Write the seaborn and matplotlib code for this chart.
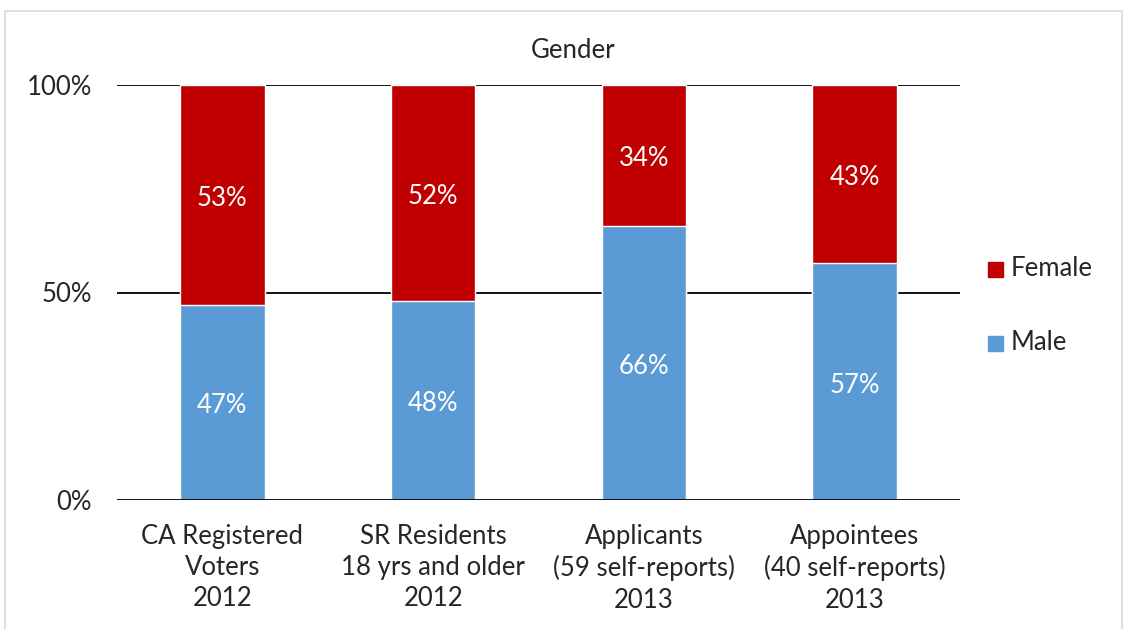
import matplotlib
matplotlib.use("Agg")
import matplotlib.pyplot as plt
import seaborn as sns
import pandas as pd
from matplotlib.patches import Rectangle

categories = ["CA Registered\nVoters\n2012", "SR Residents\n18 yrs and older\n2012",
              "Applicants\n(59 self-reports)\n2013", "Appointees\n(40 self-reports)\n2013"]
male = [47, 48, 66, 57]
female = [53, 52, 34, 43]
yticks = [0, 50, 100]
ytick_labels = ["0%", "50%", "100%"]

red = "#C00000"
blue = "#5B9BD5"
FS = 18.5

sns.set_theme(style="white")
plt.rcParams['font.family'] = ['Lato', 'DejaVu Sans']

df = pd.DataFrame({"cat": categories, "male": male, "female": female})
df["total"] = df["male"] + df["female"]

fig = plt.figure(figsize=(11.3, 6.29), dpi=100)
ax = fig.add_axes([117/1130, 1-500/629, (960-117)/1130, (500-85)/629])

for y in yticks:
    ax.axhline(y, color="black", lw=1.3, zorder=3 if y == 0 else 0.5)

sns.barplot(data=df, x="cat", y="total", color=red, width=0.40, ax=ax, saturation=1, zorder=2)
sns.barplot(data=df, x="cat", y="male", color=blue, width=0.40, ax=ax, saturation=1, zorder=2)

for i, (m, f) in enumerate(zip(male, female)):
    ax.text(i, m/2 - 0.8, f"{m}%", ha="center", va="center", color="white", fontsize=FS, zorder=4)
    ax.text(i, m + f/2 - 0.8, f"{f}%", ha="center", va="center", color="white", fontsize=FS, zorder=4)

ax.set_xlim(-0.5, 3.5)
ax.set_ylim(0, 100)
ax.set_yticks(yticks)
ax.set_yticklabels(ytick_labels, fontsize=FS)
ax.set_xticks(range(len(categories)))
ax.set_xticklabels(categories, fontsize=FS, linespacing=1.32)
ax.tick_params(axis="both", length=0)
ax.tick_params(axis="y", pad=18)
ax.tick_params(axis="x", pad=17)
ax.set_xlabel("")
ax.set_ylabel("")
for s in ax.spines.values():
    s.set_visible(False)

fig.text(573/1130, 1-50/629, "Gender", ha="center", va="center", fontsize=FS)

# legend
fig.patches.append(Rectangle((988/1130, 1-277/629), 15/1130, 15/629, transform=fig.transFigure, color=red))
fig.patches.append(Rectangle((988/1130, 1-351/629), 15/1130, 15/629, transform=fig.transFigure, color=blue))
fig.text(1011/1130, 1-269/629, "Female", ha="left", va="center", fontsize=FS)
fig.text(1011/1130, 1-343/629, "Male", ha="left", va="center", fontsize=FS)

# chart border
fig.patches.append(Rectangle((5/1130, -0.05), (1122-5)/1130, 1.05 - 11/629, transform=fig.transFigure,
                             fill=False, edgecolor="#D9D9D9", lw=1.2))

fig.savefig("out.png", dpi=100)
